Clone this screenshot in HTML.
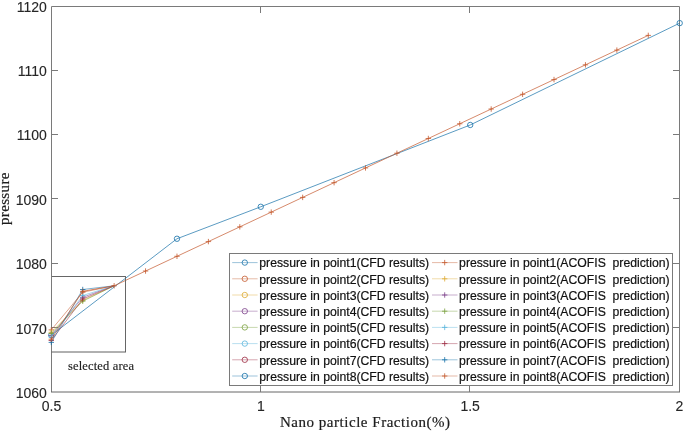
<!DOCTYPE html>
<html><head><meta charset="utf-8"><title>chart</title>
<style>html,body{margin:0;padding:0;background:#fff;}body{width:685px;height:434px;position:relative;overflow:hidden;font-family:"Liberation Sans",sans-serif;}</style>
</head><body>
<svg width="685" height="434" viewBox="0 0 685 434" style="position:absolute;left:0;top:0;will-change:transform">
<rect width="685" height="434" fill="#fff"/>
<g stroke="#7a7a7a" stroke-width="1" fill="none">
<path d="M51.5 392.0V6.5H679.5V392.0"/>
<path d="M51.0 392.0H680.0" stroke="#666"/>
<path d="M260.50 392.0V385.50M260.50 6.5V13.00"/>
<path d="M469.50 392.0V385.50M469.50 6.5V13.00"/>
<path d="M51.5 327.50H58.00M679.5 327.50H673.00"/>
<path d="M51.5 263.50H58.00M679.5 263.50H673.00"/>
<path d="M51.5 198.50H58.00M679.5 198.50H673.00"/>
<path d="M51.5 134.50H58.00M679.5 134.50H673.00"/>
<path d="M51.5 70.50H58.00M679.5 70.50H673.00"/>
</g>
<g font-family="Liberation Sans, sans-serif" font-size="14" fill="#262626" stroke="#262626" stroke-width="0.12">
<text x="46.9" y="398.00" text-anchor="end">1060</text>
<text x="46.9" y="333.50" text-anchor="end">1070</text>
<text x="46.9" y="268.90" text-anchor="end">1080</text>
<text x="46.9" y="204.65" text-anchor="end">1090</text>
<text x="46.9" y="140.40" text-anchor="end">1100</text>
<text x="46.9" y="76.15" text-anchor="end">1110</text>
<text x="46.9" y="11.90" text-anchor="end">1120</text>
<text x="51.50" y="410.9" text-anchor="middle">0.5</text>
<text x="260.83" y="410.9" text-anchor="middle">1</text>
<text x="470.17" y="410.9" text-anchor="middle">1.5</text>
<text x="679.50" y="410.9" text-anchor="middle">2</text>
</g>
<g fill="none" stroke-linejoin="round">
<path d="M51.30 335.20 L176.98 238.76 L260.77 206.78 L470.23 124.97 L679.70 23.12" stroke="#1470A8" stroke-width="0.7"/>
<circle cx="51.30" cy="335.20" r="2.7" stroke="#1470A8" stroke-width="0.8"/>
<circle cx="176.98" cy="238.76" r="2.7" stroke="#1470A8" stroke-width="0.8"/>
<circle cx="260.77" cy="206.78" r="2.7" stroke="#1470A8" stroke-width="0.8"/>
<circle cx="470.23" cy="124.97" r="2.7" stroke="#1470A8" stroke-width="0.8"/>
<circle cx="679.70" cy="23.12" r="2.7" stroke="#1470A8" stroke-width="0.8"/>
<path d="M51.30 329.90 L82.72 292.20 L114.14 285.77" stroke="#C4582C" stroke-width="0.55"/>
<path d="M48.60 329.90h5.4M51.30 327.20v5.4M80.02 292.20h5.4M82.72 289.50v5.4" stroke="#C4582C" stroke-width="0.8"/>
<path d="M51.30 332.30 L82.72 300.40 L114.14 285.77" stroke="#DDAA30" stroke-width="0.55"/>
<path d="M48.60 332.30h5.4M51.30 329.60v5.4M80.02 300.40h5.4M82.72 297.70v5.4" stroke="#DDAA30" stroke-width="0.8"/>
<path d="M51.30 335.50 L82.72 297.30 L114.14 285.77" stroke="#7A3C88" stroke-width="0.55"/>
<path d="M48.60 335.50h5.4M51.30 332.80v5.4M80.02 297.30h5.4M82.72 294.60v5.4" stroke="#7A3C88" stroke-width="0.8"/>
<path d="M51.30 333.50 L82.72 301.20 L114.14 285.77" stroke="#78A03C" stroke-width="0.55"/>
<path d="M48.60 333.50h5.4M51.30 330.80v5.4M80.02 301.20h5.4M82.72 298.50v5.4" stroke="#78A03C" stroke-width="0.8"/>
<path d="M51.30 337.00 L82.72 295.50 L114.14 285.77" stroke="#58B4DC" stroke-width="0.55"/>
<path d="M48.60 337.00h5.4M51.30 334.30v5.4M80.02 295.50h5.4M82.72 292.80v5.4" stroke="#58B4DC" stroke-width="0.8"/>
<path d="M51.30 340.50 L82.72 299.00 L114.14 285.77" stroke="#9C2840" stroke-width="0.55"/>
<path d="M48.60 340.50h5.4M51.30 337.80v5.4M80.02 299.00h5.4M82.72 296.30v5.4" stroke="#9C2840" stroke-width="0.8"/>
<path d="M51.30 342.40 L82.72 289.50 L114.14 285.77" stroke="#1470A8" stroke-width="0.55"/>
<path d="M48.60 342.40h5.4M51.30 339.70v5.4M80.02 289.50h5.4M82.72 286.80v5.4" stroke="#1470A8" stroke-width="0.8"/>
<path d="M51.30 339.20 L82.72 291.30 L114.14 285.77 L145.56 271.04 L176.98 256.31 L208.40 241.59 L239.82 226.86 L271.24 212.13 L302.66 197.40 L334.08 182.67 L365.50 167.94 L396.92 153.22 L428.34 138.49 L459.76 123.76 L491.18 109.03 L522.60 94.30 L554.02 79.57 L585.44 64.85 L616.86 50.12 L648.28 35.39" stroke="#C4582C" stroke-width="0.7"/>
<path d="M48.60 339.20h5.4M51.30 336.50v5.4M80.02 291.30h5.4M82.72 288.60v5.4M111.44 285.77h5.4M114.14 283.07v5.4M142.86 271.04h5.4M145.56 268.34v5.4M174.28 256.31h5.4M176.98 253.61v5.4M205.70 241.59h5.4M208.40 238.89v5.4M237.12 226.86h5.4M239.82 224.16v5.4M268.54 212.13h5.4M271.24 209.43v5.4M299.96 197.40h5.4M302.66 194.70v5.4M331.38 182.67h5.4M334.08 179.97v5.4M362.80 167.94h5.4M365.50 165.24v5.4M394.22 153.22h5.4M396.92 150.52v5.4M425.64 138.49h5.4M428.34 135.79v5.4M457.06 123.76h5.4M459.76 121.06v5.4M488.48 109.03h5.4M491.18 106.33v5.4M519.90 94.30h5.4M522.60 91.60v5.4M551.32 79.57h5.4M554.02 76.87v5.4M582.74 64.85h5.4M585.44 62.15v5.4M614.16 50.12h5.4M616.86 47.42v5.4M645.58 35.39h5.4M648.28 32.69v5.4" stroke="#C4582C" stroke-width="0.8"/>
</g>
<path d="M51.5 276.5H125.5V352" fill="none" stroke="#666" stroke-width="1" shape-rendering="crispEdges"/><path d="M51.5 352H126" fill="none" stroke="#606060" stroke-width="1"/>
<text x="68" y="369.6" font-family="Liberation Serif, serif" font-size="12.5" fill="#1c1c1c" stroke="#1c1c1c" stroke-width="0.15" textLength="66" lengthAdjust="spacing">selected area</text>
<rect x="229.5" y="253.5" width="443.00" height="132.00" fill="#fff" stroke="#7a7a7a" stroke-width="1" shape-rendering="crispEdges"/>
<g font-family="Liberation Sans, sans-serif" font-size="12.22" fill="#111" stroke="#111" stroke-width="0.2">
<path d="M232.2 262.60H257.6" stroke="#1470A8" stroke-width="0.7" stroke-opacity="0.6" fill="none"/>
<circle cx="244.8" cy="262.60" r="2.7" stroke="#1470A8" stroke-width="0.8" fill="none"/>
<text x="259.3" y="267.30">pressure in point1(CFD results)</text>
<path d="M432 262.60H457.5" stroke="#C4582C" stroke-width="0.7" stroke-opacity="0.6" fill="none"/><path d="M442 262.60h5.4M444.7 259.90v5.4" stroke="#C4582C" stroke-width="0.8" fill="none"/>
<text x="459.1" y="267.30" xml:space="preserve">pressure in point1(ACOFIS  prediction)</text>
<path d="M232.2 278.80H257.6" stroke="#C4582C" stroke-width="0.7" stroke-opacity="0.6" fill="none"/>
<circle cx="244.8" cy="278.80" r="2.7" stroke="#C4582C" stroke-width="0.8" fill="none"/>
<text x="259.3" y="283.50">pressure in point2(CFD results)</text>
<path d="M432 278.80H457.5" stroke="#DDAA30" stroke-width="0.7" stroke-opacity="0.6" fill="none"/><path d="M442 278.80h5.4M444.7 276.10v5.4" stroke="#DDAA30" stroke-width="0.8" fill="none"/>
<text x="459.1" y="283.50" xml:space="preserve">pressure in point2(ACOFIS  prediction)</text>
<path d="M232.2 295.00H257.6" stroke="#DDAA30" stroke-width="0.7" stroke-opacity="0.6" fill="none"/>
<circle cx="244.8" cy="295.00" r="2.7" stroke="#DDAA30" stroke-width="0.8" fill="none"/>
<text x="259.3" y="299.70">pressure in point3(CFD results)</text>
<path d="M432 295.00H457.5" stroke="#7A3C88" stroke-width="0.7" stroke-opacity="0.6" fill="none"/><path d="M442 295.00h5.4M444.7 292.30v5.4" stroke="#7A3C88" stroke-width="0.8" fill="none"/>
<text x="459.1" y="299.70" xml:space="preserve">pressure in point3(ACOFIS  prediction)</text>
<path d="M232.2 311.20H257.6" stroke="#7A3C88" stroke-width="0.7" stroke-opacity="0.6" fill="none"/>
<circle cx="244.8" cy="311.20" r="2.7" stroke="#7A3C88" stroke-width="0.8" fill="none"/>
<text x="259.3" y="315.90">pressure in point4(CFD results)</text>
<path d="M432 311.20H457.5" stroke="#78A03C" stroke-width="0.7" stroke-opacity="0.6" fill="none"/><path d="M442 311.20h5.4M444.7 308.50v5.4" stroke="#78A03C" stroke-width="0.8" fill="none"/>
<text x="459.1" y="315.90" xml:space="preserve">pressure in point4(ACOFIS  prediction)</text>
<path d="M232.2 327.40H257.6" stroke="#78A03C" stroke-width="0.7" stroke-opacity="0.6" fill="none"/>
<circle cx="244.8" cy="327.40" r="2.7" stroke="#78A03C" stroke-width="0.8" fill="none"/>
<text x="259.3" y="332.10">pressure in point5(CFD results)</text>
<path d="M432 327.40H457.5" stroke="#58B4DC" stroke-width="0.7" stroke-opacity="0.6" fill="none"/><path d="M442 327.40h5.4M444.7 324.70v5.4" stroke="#58B4DC" stroke-width="0.8" fill="none"/>
<text x="459.1" y="332.10" xml:space="preserve">pressure in point5(ACOFIS  prediction)</text>
<path d="M232.2 343.60H257.6" stroke="#58B4DC" stroke-width="0.7" stroke-opacity="0.6" fill="none"/>
<circle cx="244.8" cy="343.60" r="2.7" stroke="#58B4DC" stroke-width="0.8" fill="none"/>
<text x="259.3" y="348.30">pressure in point6(CFD results)</text>
<path d="M432 343.60H457.5" stroke="#9C2840" stroke-width="0.7" stroke-opacity="0.6" fill="none"/><path d="M442 343.60h5.4M444.7 340.90v5.4" stroke="#9C2840" stroke-width="0.8" fill="none"/>
<text x="459.1" y="348.30" xml:space="preserve">pressure in point6(ACOFIS  prediction)</text>
<path d="M232.2 359.80H257.6" stroke="#9C2840" stroke-width="0.7" stroke-opacity="0.6" fill="none"/>
<circle cx="244.8" cy="359.80" r="2.7" stroke="#9C2840" stroke-width="0.8" fill="none"/>
<text x="259.3" y="364.50">pressure in point7(CFD results)</text>
<path d="M432 359.80H457.5" stroke="#1470A8" stroke-width="0.7" stroke-opacity="0.6" fill="none"/><path d="M442 359.80h5.4M444.7 357.10v5.4" stroke="#1470A8" stroke-width="0.8" fill="none"/>
<text x="459.1" y="364.50" xml:space="preserve">pressure in point7(ACOFIS  prediction)</text>
<path d="M232.2 376.00H257.6" stroke="#1470A8" stroke-width="0.7" stroke-opacity="0.6" fill="none"/>
<circle cx="244.8" cy="376.00" r="2.7" stroke="#1470A8" stroke-width="0.8" fill="none"/>
<text x="259.3" y="380.70">pressure in point8(CFD results)</text>
<path d="M432 376.00H457.5" stroke="#C4582C" stroke-width="0.7" stroke-opacity="0.6" fill="none"/><path d="M442 376.00h5.4M444.7 373.30v5.4" stroke="#C4582C" stroke-width="0.8" fill="none"/>
<text x="459.1" y="380.70" xml:space="preserve">pressure in point8(ACOFIS  prediction)</text>
</g>
<text x="365" y="427.3" text-anchor="middle" font-family="Liberation Serif, serif" font-size="15" fill="#1c1c1c" stroke="#1c1c1c" stroke-width="0.2" textLength="170" lengthAdjust="spacing">Nano particle Fraction(%)</text>
<text transform="translate(8.8 198.8) rotate(-90)" text-anchor="middle" font-family="Liberation Serif, serif" font-size="15" fill="#1c1c1c" stroke="#1c1c1c" stroke-width="0.2" textLength="52.6" lengthAdjust="spacing">pressure</text>
</svg>
</body></html>
